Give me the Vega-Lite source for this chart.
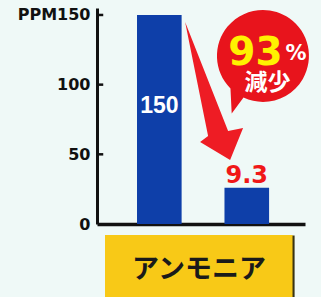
{
  "$schema": "https://vega.github.io/schema/vega-lite/v6.json",
  "width": 208,
  "height": 216,
  "autosize": {"type": "none"},
  "padding": {"left": 97, "top": 8, "right": 16, "bottom": 73},
  "background": "#eff9f7",
  "config": {"view": {"stroke": null}},
  "resolve": {"scale": {"x": "independent"}},
  "layer": [
    {
      "data": {"values": [
        {"stage": "before", "value": 150, "height": 150, "label": "150"},
        {"stage": "after", "value": 9.3, "height": 26, "label": "9.3"}
      ]},
      "encoding": {
        "x": {"field": "stage", "type": "nominal", "sort": ["before", "after"],
          "scale": {"paddingInner": 0.49, "paddingOuter": 0.434, "align": 0.527},
          "axis": {"labels": false, "ticks": false, "title": null, "domainColor": "#111111", "domainWidth": 3.5, "grid": false}},
        "y": {"field": "height", "type": "quantitative",
          "scale": {"domain": [0, 155], "nice": false},
          "axis": {"values": [0, 50, 100, 150], "title": null, "grid": false,
            "labelExpr": "datum.value == 150 ? 'PPM150' : datum.label",
            "labelFont": "DejaVu Sans", "labelFontWeight": "bold", "labelFontSize": 16, "labelColor": "#111111",
            "labelPadding": 7, "ticks": false,
            "domainColor": "#111111", "domainWidth": 3}}
      },
      "layer": [
        {"mark": {"type": "bar", "color": "#0e3fa9"}},
        {"transform": [{"filter": "datum.stage == 'before'"}],
         "mark": {"type": "text", "font": "Liberation Sans", "fontWeight": "bold", "fontSize": 23, "color": "#ffffff", "baseline": "alphabetic", "dy": 98},
         "encoding": {"text": {"field": "label"}}},
        {"transform": [{"filter": "datum.stage == 'after'"}],
         "mark": {"type": "text", "font": "DejaVu Sans", "fontWeight": "bold", "fontSize": 24, "color": "#f01818", "baseline": "alphabetic", "dy": -5},
         "encoding": {"text": {"field": "label"}}}
      ]
    },
    {
      "data": {"values": [{"tick": 50}, {"tick": 100}, {"tick": 150}]},
      "mark": {"type": "rule", "color": "#111111", "strokeWidth": 2.5},
      "encoding": {
        "x": {"datum": 0, "type": "quantitative", "scale": {"domain": [0, 10]}, "axis": null, "title": null},
        "x2": {"datum": 0.3},
        "y": {"field": "tick", "type": "quantitative", "scale": {"domain": [0, 155], "nice": false}, "title": null}
      }
    },
    {
      "data": {"values": [{}]},
      "layer": [
        {"mark": {"type": "rect", "color": "#3a3412"},
         "encoding": {
           "x": {"datum": 0.45, "type": "quantitative", "scale": {"domain": [0, 10]}, "axis": null, "title": null},
           "x2": {"datum": 9.5},
           "y": {"datum": -8.2, "type": "quantitative", "scale": {"domain": [0, 155], "nice": false}, "title": null},
           "y2": {"datum": -52.5}}},
        {"mark": {"type": "rect", "color": "#f8c917"},
         "encoding": {
           "x": {"datum": 0.385, "type": "quantitative", "scale": {"domain": [0, 10]}, "axis": null, "title": null},
           "x2": {"datum": 9.4},
           "y": {"datum": -7.9, "type": "quantitative", "scale": {"domain": [0, 155], "nice": false}, "title": null},
           "y2": {"datum": -52.5}}},
        {"mark": {"type": "text", "text": "アンモニア", "font": "Noto Sans CJK JP", "fontWeight": "bold", "fontSize": 27, "color": "#1a1a1a", "baseline": "alphabetic", "align": "center"},
         "encoding": {
           "x": {"datum": 4.9, "type": "quantitative", "scale": {"domain": [0, 10]}, "axis": null, "title": null},
           "y": {"datum": -38.5, "type": "quantitative", "scale": {"domain": [0, 155], "nice": false}, "title": null}}},
        {"mark": {"type": "point", "filled": true, "opacity": 1, "color": "#ee1c24", "size": 19044,
           "shape": "M-0.42,-1 L0.203,0.58 L0.42,0.536 L0.232,1 L-0.203,0.739 L-0.087,0.652 Z"},
         "encoding": {
           "x": {"datum": 5.63, "type": "quantitative", "scale": {"domain": [0, 10]}, "axis": null, "title": null},
           "y": {"datum": 95.4, "type": "quantitative", "scale": {"domain": [0, 155], "nice": false}, "title": null}}},
        {"mark": {"type": "point", "filled": true, "opacity": 1, "color": "#e8141c", "size": 8464,
           "shape": "M-0.423,0.906 A1,1 0 1,0 -0.707,0.707 L-0.68,1.25 Z"},
         "encoding": {
           "x": {"datum": 7.98, "type": "quantitative", "scale": {"domain": [0, 10]}, "axis": null, "title": null},
           "y": {"datum": 120.6, "type": "quantitative", "scale": {"domain": [0, 155], "nice": false}, "title": null}}},
        {"mark": {"type": "text", "text": "93", "font": "DejaVu Sans", "fontWeight": "bold", "fontSize": 39, "color": "#fff200", "baseline": "alphabetic", "align": "center"},
         "encoding": {
           "x": {"datum": 7.62, "type": "quantitative", "scale": {"domain": [0, 10]}, "axis": null, "title": null},
           "y": {"datum": 114.3, "type": "quantitative", "scale": {"domain": [0, 155], "nice": false}, "title": null}}},
        {"mark": {"type": "text", "text": "%", "font": "DejaVu Sans", "fontWeight": "bold", "fontSize": 21, "color": "#ffffff", "baseline": "alphabetic", "align": "center"},
         "encoding": {
           "x": {"datum": 9.57, "type": "quantitative", "scale": {"domain": [0, 10]}, "axis": null, "title": null},
           "y": {"datum": 117.7, "type": "quantitative", "scale": {"domain": [0, 155], "nice": false}, "title": null}}},
        {"mark": {"type": "text", "text": "減少", "font": "Noto Sans CJK JP", "fontWeight": "bold", "fontSize": 23, "color": "#ffffff", "baseline": "alphabetic", "align": "center"},
         "encoding": {
           "x": {"datum": 8.2, "type": "quantitative", "scale": {"domain": [0, 10]}, "axis": null, "title": null},
           "y": {"datum": 96.2, "type": "quantitative", "scale": {"domain": [0, 155], "nice": false}, "title": null}}}
      ]
    }
  ]
}
